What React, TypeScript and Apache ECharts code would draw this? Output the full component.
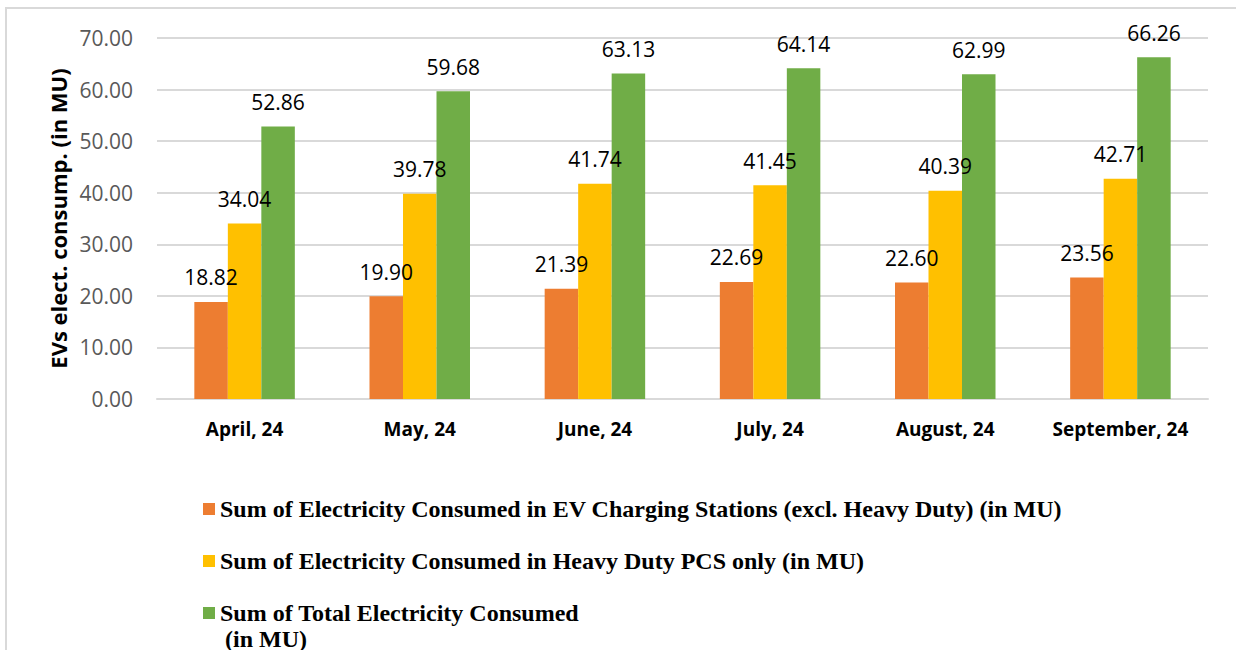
import React, { useEffect, useRef } from "react";
import * as echarts from "echarts";

const categories = ["April, 24", "May, 24", "June, 24", "July, 24", "August, 24", "September, 24"];
const seriesNames = [
  "Sum of Electricity Consumed in EV Charging Stations (excl. Heavy Duty) (in MU)",
  "Sum of Electricity Consumed in Heavy Duty PCS only (in MU)",
  "Sum of Total Electricity Consumed (in MU)",
];
const chargingStations = [18.82, 19.9, 21.39, 22.69, 22.6, 23.56];
const heavyDuty = [34.04, 39.78, 41.74, 41.45, 40.39, 42.71];
const totalConsumed = [52.86, 59.68, 63.13, 64.14, 62.99, 66.26];
const colors = ["#ED7D31", "#FFC000", "#70AD47"];
const yAxisName = "EVs elect. consump. (in MU)";

export default function App() {
  const ref = useRef<HTMLDivElement>(null);
  useEffect(() => {
    if (!ref.current) return;
    const chart = echarts.init(ref.current, null, { renderer: "svg" });
    const values = [chargingStations, heavyDuty, totalConsumed];
    chart.setOption({
      animation: false,
      grid: { left: 157, right: 28, top: 38, bottom: 251 },
      xAxis: {
        type: "category",
        data: categories,
        axisLine: { lineStyle: { color: "#d9d9d9", width: 2 } },
        axisTick: { show: false },
        axisLabel: {
          interval: 0,
          color: "#000",
          fontFamily: "Open Sans",
          fontWeight: "bold",
          fontSize: 19,
          margin: 20,
        },
      },
      yAxis: {
        type: "value",
        min: 0,
        max: 70,
        interval: 10,
        name: yAxisName,
        nameLocation: "middle",
        nameGap: 86,
        nameTextStyle: { color: "#000", fontFamily: "Open Sans", fontWeight: "bold", fontSize: 22 },
        axisLine: { show: false },
        axisTick: { show: false },
        splitLine: { lineStyle: { color: "#d9d9d9", width: 2 } },
        axisLabel: {
          color: "#595959",
          fontFamily: "Open Sans",
          fontSize: 21,
          margin: 24,
          formatter: (v: number) => v.toFixed(2),
        },
      },
      legend: {
        orient: "vertical",
        left: 198,
        top: 492,
        icon: "rect",
        itemWidth: 12,
        itemHeight: 12,
        itemGap: 28,
        textStyle: {
          color: "#000",
          fontFamily: "Liberation Serif",
          fontWeight: "bold",
          fontSize: 24,
          lineHeight: 24,
        },
        formatter: (name: string) =>
          name === seriesNames[2] ? "Sum of Total Electricity Consumed" : name,
        data: seriesNames,
      },
      graphic: [
        {
          type: "rect",
          shape: { x: 6, y: 8, width: 1260, height: 700 },
          style: { fill: "none", stroke: "#d9d9d9", lineWidth: 2 },
          silent: true,
        },
        {
          type: "text",
          left: 225,
          top: 627,
          style: {
            text: "(in MU)",
            fill: "#000",
            font: "bold 24px 'Liberation Serif'",
          },
        },
      ],
      series: seriesNames.map((name, i) => ({
        name,
        type: "bar",
        data: values[i],
        barWidth: 33.5,
        barGap: "0%",
        itemStyle: { color: colors[i] },
        label: {
          show: true,
          position: "top",
          distance: 14,
          color: "#000",
          fontFamily: "Open Sans",
          fontSize: 21,
          formatter: (p: any) => Number(p.value).toFixed(2),
        },
      })),
    });
    return () => chart.dispose();
  }, []);
  return <div ref={ref} style={{ position: "absolute", left: 0, top: 0, width: 1236, height: 650 }} />;
}
